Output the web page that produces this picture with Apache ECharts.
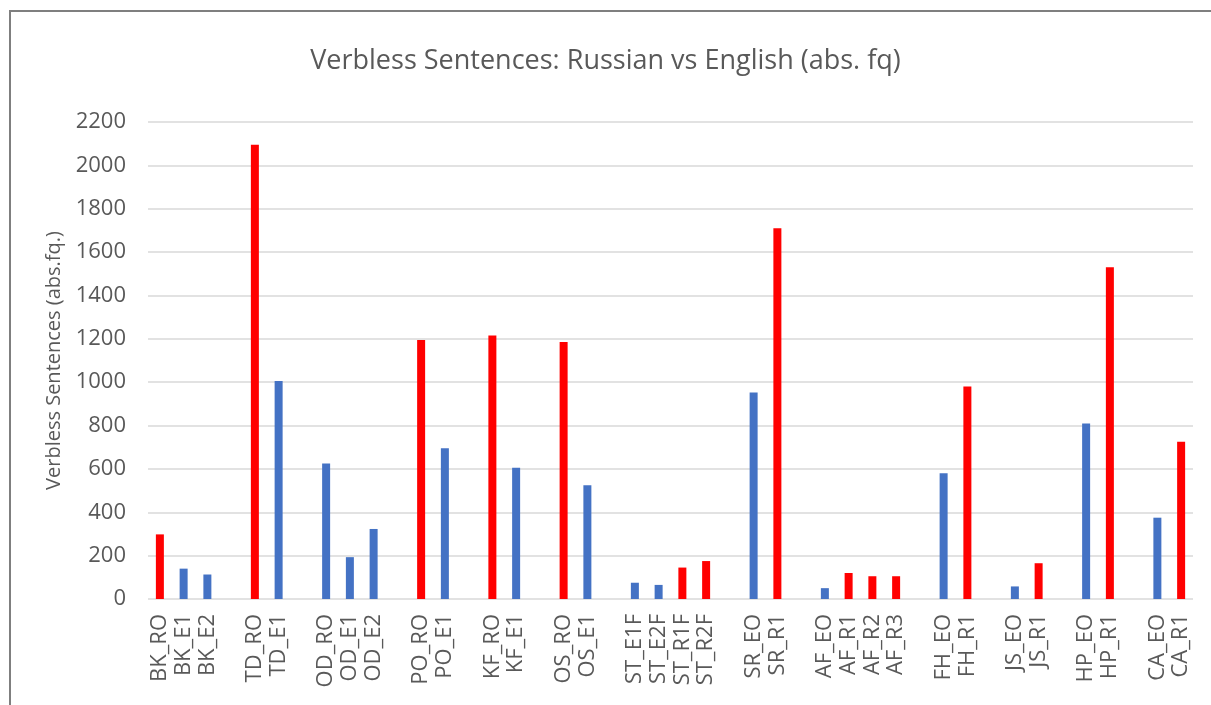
<!DOCTYPE html>
<html>
<head>
<meta charset="utf-8">
<script src="https://cdn.jsdelivr.net/npm/echarts@6/dist/echarts.min.js"></script>
<style>html,body{margin:0;padding:0;background:#fff;}#c{width:1211px;height:705px;}</style>
</head>
<body>
<div id="c"></div>
<script>
var categories = ['BK_RO','BK_E1','BK_E2','', 'TD_RO','TD_E1','', 'OD_RO','OD_E1','OD_E2','', 'PO_RO','PO_E1','', 'KF_RO','KF_E1','', 'OS_RO','OS_E1','', 'ST_E1F','ST_E2F','ST_R1F','ST_R2F','', 'SR_EO','SR_R1','', 'AF_EO','AF_R1','AF_R2','AF_R3','', 'FH_EO','FH_R1','', 'JS_EO','JS_R1','', 'HP_EO','HP_R1','', 'CA_EO','CA_R1'];
var russian = [298,null,null,null, 2095,null,null, null,null,null,null, 1195,null,null, 1215,null,null, 1185,null,null, null,null,145,175,null, null,1710,null, null,120,105,105,null, null,980,null, null,165,null, null,1530,null, null,725];
var english = [null,140,113,null, null,1005,null, 625,193,323,null, null,695,null, null,605,null, null,525,null, 75,65,null,null,null, 952,null,null, 50,null,null,null,null, 580,null,null, 58,null,null, 810,null,null, 375,null];
var yTicks = [0,200,400,600,800,1000,1200,1400,1600,1800,2000,2200];

var chart = echarts.init(document.getElementById('c'), null, {renderer:'canvas'});
var font = 'Open Sans';
chart.setOption({
  animation:false,
  backgroundColor:'#fff',
  title:{text:'Verbless Sentences: Russian vs English (abs. fq)', left:'center', top:43,
    textStyle:{fontFamily:font, fontSize:27, fontWeight:'normal', color:'#595959'}},
  grid:{left:148, right:18, top:122, bottom:106},
  graphic:[{type:'rect', shape:{x:10, y:11, width:1220, height:720}, style:{fill:'none', stroke:'#7f7f7f', lineWidth:2}, silent:true}],
  xAxis:{type:'category', data:categories,
    axisTick:{show:false}, axisLine:{show:false},
    axisLabel:{interval:0, rotate:90, margin:15, color:'#595959', fontFamily:font, fontSize:22}},
  yAxis:{type:'value', min:yTicks[0], max:yTicks[yTicks.length-1], interval:200,
    name:'Verbless Sentences (abs.fq.)', nameLocation:'middle', nameGap:84,
    nameTextStyle:{fontFamily:font, fontSize:20, color:'#595959'},
    axisLabel:{color:'#595959', fontFamily:font, fontSize:22, margin:22, formatter:function(v){return String(v);}},
    splitLine:{lineStyle:{color:'#d9d9d9', width:1.5}}},
  series:[
    {name:'Russian', type:'bar', data:russian, barWidth:8, barGap:'-100%', itemStyle:{color:'#ff0000'}},
    {name:'English', type:'bar', data:english, barWidth:8, itemStyle:{color:'#4472c4'}}
  ]
});
</script>
</body>
</html>
